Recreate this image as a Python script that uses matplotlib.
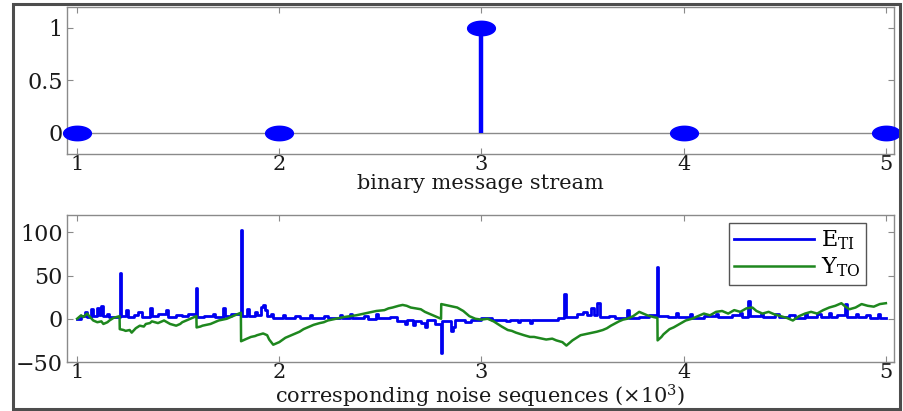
import numpy as np
import matplotlib
matplotlib.use("Agg")
import matplotlib.pyplot as plt
from matplotlib.path import Path
from matplotlib.patches import Rectangle

plt.rcParams['font.family'] = ['DejaVu Serif']
plt.rcParams['mathtext.fontset'] = 'dejavuserif'

# top panel: binary message stream
msg_idx = [1, 2, 3, 4, 5]
msg_bits = [0, 0, 1, 0, 0]

# bottom panel: noise sequences (x in thousands of samples)
e_x = [1.00, 1.02, 1.04, 1.05, 1.07, 1.08, 1.10, 1.11, 1.12, 1.13, 1.15, 1.16,
       1.21, 1.215, 1.24, 1.25, 1.28, 1.30, 1.32, 1.36, 1.37, 1.40, 1.44, 1.45,
       1.49, 1.52, 1.55, 1.59, 1.595, 1.63, 1.67, 1.68, 1.72, 1.73, 1.76, 1.81,
       1.815, 1.84, 1.85, 1.88, 1.89, 1.91, 1.92, 1.93, 1.94, 1.96, 1.97, 2.02,
       2.03, 2.08, 2.10, 2.15, 2.16, 2.22, 2.24, 2.30, 2.31, 2.35, 2.36, 2.42,
       2.44, 2.48, 2.49, 2.55, 2.58, 2.62, 2.63, 2.66, 2.67, 2.70, 2.72, 2.73,
       2.77, 2.80, 2.805, 2.85, 2.86, 2.87, 2.92, 2.95, 3.00, 3.05, 3.12, 3.14,
       3.18, 3.19, 3.24, 3.25, 3.32, 3.38, 3.41, 3.42, 3.47, 3.50, 3.52, 3.54,
       3.555, 3.57, 3.585, 3.63, 3.66, 3.72, 3.73, 3.78, 3.83, 3.87, 3.875, 3.92,
       3.96, 3.97, 4.03, 4.04, 4.10, 4.16, 4.17, 4.24, 4.28, 4.29, 4.32, 4.33,
       4.38, 4.39, 4.45, 4.47, 4.52, 4.55, 4.60, 4.61, 4.66, 4.68, 4.72, 4.73,
       4.76, 4.80, 4.81, 4.85, 4.86, 4.90, 4.92, 4.96, 4.97, 5.00]
e_y = [0, 3, 8, 2, 11, 3, 13, 4, 15, 3, 6, 2,
       53, 3, 10, 2, 4, 8, 2, 12, 3, 5, 10, 2,
       4, 3, 5, 36, 2, 3, 6, 2, 13, 3, 5, 103,
       3, 11, 3, 8, 4, 14, 16, 10, 3, 5, 1, 4,
       1, 3, 1, 4, 1, 3, 1, 4, 1, 5, 1, 3,
       0, 6, 1, 2, -3, -6, -2, -7, -3, -5, -10, -2,
       -6, -40, -3, -14, -10, -2, -4, -1, 1, -2, -3, -1,
       -4, -1, -5, -1, -2, 1, 29, 2, 6, 8, 4, 13,
       4, 18, 2, 3, 1, 10, 1, 2, 4, 60, 3, 2,
       7, 2, 5, 1, 3, 6, 2, 4, 7, 2, 20, 3,
       6, 2, 5, 2, 4, 1, 6, 2, 5, 2, 7, 2,
       4, 17, 2, 6, 2, 4, 1, 5, 1, 1]

y_x = [1.00, 1.02, 1.03, 1.05, 1.06, 1.08, 1.10, 1.12, 1.13, 1.15, 1.16, 1.18,
       1.21, 1.211, 1.23, 1.24, 1.26, 1.27, 1.29, 1.31, 1.33, 1.34, 1.36, 1.37,
       1.40, 1.42, 1.43, 1.46, 1.49, 1.51, 1.52, 1.55, 1.57, 1.59,
       1.591, 1.61, 1.62, 1.64, 1.66, 1.68, 1.70, 1.72, 1.74, 1.77, 1.79, 1.81,
       1.811, 1.83, 1.84, 1.86, 1.88, 1.89, 1.92, 1.94,
       1.95, 1.97, 1.99, 2.00, 2.03, 2.05, 2.07, 2.10, 2.12, 2.14, 2.17, 2.20,
       2.22, 2.24, 2.28, 2.30, 2.32, 2.35, 2.38, 2.40, 2.44, 2.46, 2.48, 2.52,
       2.54, 2.56, 2.59, 2.61, 2.63, 2.65, 2.70, 2.72, 2.74, 2.78, 2.80,
       2.801, 2.82, 2.84, 2.86, 2.88, 2.91, 2.94, 2.97, 3.00, 3.03, 3.06, 3.08,
       3.10, 3.13, 3.15, 3.17, 3.21, 3.24, 3.26, 3.28, 3.32, 3.35, 3.37, 3.40,
       3.42, 3.45, 3.47, 3.49, 3.53, 3.55, 3.57, 3.60, 3.62, 3.64, 3.68, 3.70,
       3.72, 3.75, 3.78, 3.80, 3.82, 3.85, 3.87, 3.871, 3.89, 3.90, 3.93, 3.95,
       3.98, 4.01, 4.04, 4.07, 4.10, 4.13, 4.16, 4.19, 4.22, 4.25, 4.28, 4.31,
       4.34, 4.36, 4.39, 4.42, 4.45, 4.48, 4.51, 4.54, 4.57, 4.60, 4.63, 4.66,
       4.69, 4.72, 4.75, 4.78, 4.80, 4.82, 4.85, 4.88, 4.91, 4.94, 4.97, 5.00]
y_y = [0, 4, 2, 6, 3, -2, -4, -3, -6, -4, -2, 1,
       3, -12, -13, -14, -13, -16, -11, -8, -9, -6, -5, -3,
       -5, -3, -2, -6, -8, -6, -4, -1, 1, 3,
       -10, -9, -8, -7, -6, -4, -2, -1, 0, 3, 5, 7,
       -26, -24, -23, -21, -20, -19, -17, -19,
       -24, -30, -28, -27, -22, -20, -18, -15, -12, -10, -7, -5,
       -4, -2, 0, 1, 2, 3, 4, 5, 7, 8, 9, 10,
       12, 13, 15, 16, 15, 13, 11, 8, 6, 2, 0,
       17, 16, 15, 14, 13, 9, 3, 0, -1, 0, -3, -6,
       -9, -13, -14, -16, -19, -21, -21, -22, -24, -23, -25, -27,
       -31, -25, -22, -19, -17, -16, -15, -13, -11, -8, -3, -1,
       0, 3, 8, 6, 4, 2, 1, -25, -21, -18, -12, -10,
       -6, -2, 0, 3, 6, 4, 8, 9, 6, 10, 8, 12,
       13, 9, 6, 8, 5, 3, 1, -2, 3, 6, 8, 6,
       10, 13, 15, 18, 14, 11, 13, 17, 15, 14, 17, 18]

axis_gray = '#8a8a8a'
text_col = '#1a1a1a'

fig = plt.figure(figsize=(9.04, 4.11), dpi=100)
ax1 = fig.add_axes([0.0741, 0.6253, 0.9148, 0.3577])
ax2 = fig.add_axes([0.0741, 0.1192, 0.9148, 0.3577])

# elliptical marker (reference looks horizontally stretched)
t = np.linspace(0, 2 * np.pi, 60)
ellipse = Path(np.column_stack([np.cos(t), 0.52 * np.sin(t)]), closed=True)

ax1.axhline(0, color=axis_gray, lw=1.0, zorder=1)
ml, sl, bl = ax1.stem(msg_idx, msg_bits, linefmt='b-', markerfmt='bo', basefmt=' ')
sl.set_linewidth(3.2)
ml.set_marker(ellipse)
ml.set_markersize(20)
ml.set_clip_on(False)
ml.set_zorder(5)
ax1.set_xlim(0.95, 5.04)
ax1.set_ylim(-0.2, 1.2)
ax1.set_xticks([1, 2, 3, 4, 5])
ax1.set_yticks([0, 0.5, 1])
ax1.set_yticklabels(['0', '0.5', '1'])
ax1.set_xlabel('binary message stream', fontsize=15, color=text_col, labelpad=0)

ax2.plot(e_x, e_y, color='#0000f0', lw=2.0, drawstyle='steps-post', label=r'$\mathregular{E_{TI}}$')
ax2.plot(y_x, y_y, color='#1e871e', lw=1.8, label=r'$\mathregular{Y_{TO}}$')
ax2.set_xlim(0.95, 5.04)
ax2.set_ylim(-50, 120)
ax2.set_xticks([1, 2, 3, 4, 5])
ax2.set_yticks([-50, 0, 50, 100])
ax2.set_xlabel(r'corresponding noise sequences ($\times\mathregular{10^3}$)',
               fontsize=15, color=text_col, labelpad=0)
leg = ax2.legend(loc='upper right', bbox_to_anchor=(0.966, 0.946), fontsize=16,
                 handlelength=3.6, fancybox=False, framealpha=1,
                 edgecolor='#555555', borderpad=0.25, labelspacing=0.15,
                 handletextpad=0.3, borderaxespad=0)
leg.get_frame().set_linewidth(1.0)

for ax in (ax1, ax2):
    for sp in ax.spines.values():
        sp.set_color(axis_gray)
        sp.set_linewidth(1.0)
    ax.tick_params(direction='in', length=4, width=0.8, color=axis_gray,
                   top=True, right=True, labelsize=16, labelcolor=text_col, pad=3)
    ax.tick_params(axis='x', pad=1, labelsize=15)

# outer frame round the whole figure
fig.patches.append(Rectangle((0.0144, 0.006), 0.9812, 0.984, transform=fig.transFigure,
                             fill=False, edgecolor='#4d4d4d', lw=2.2, zorder=10))

fig.savefig('out.png', dpi=100)
